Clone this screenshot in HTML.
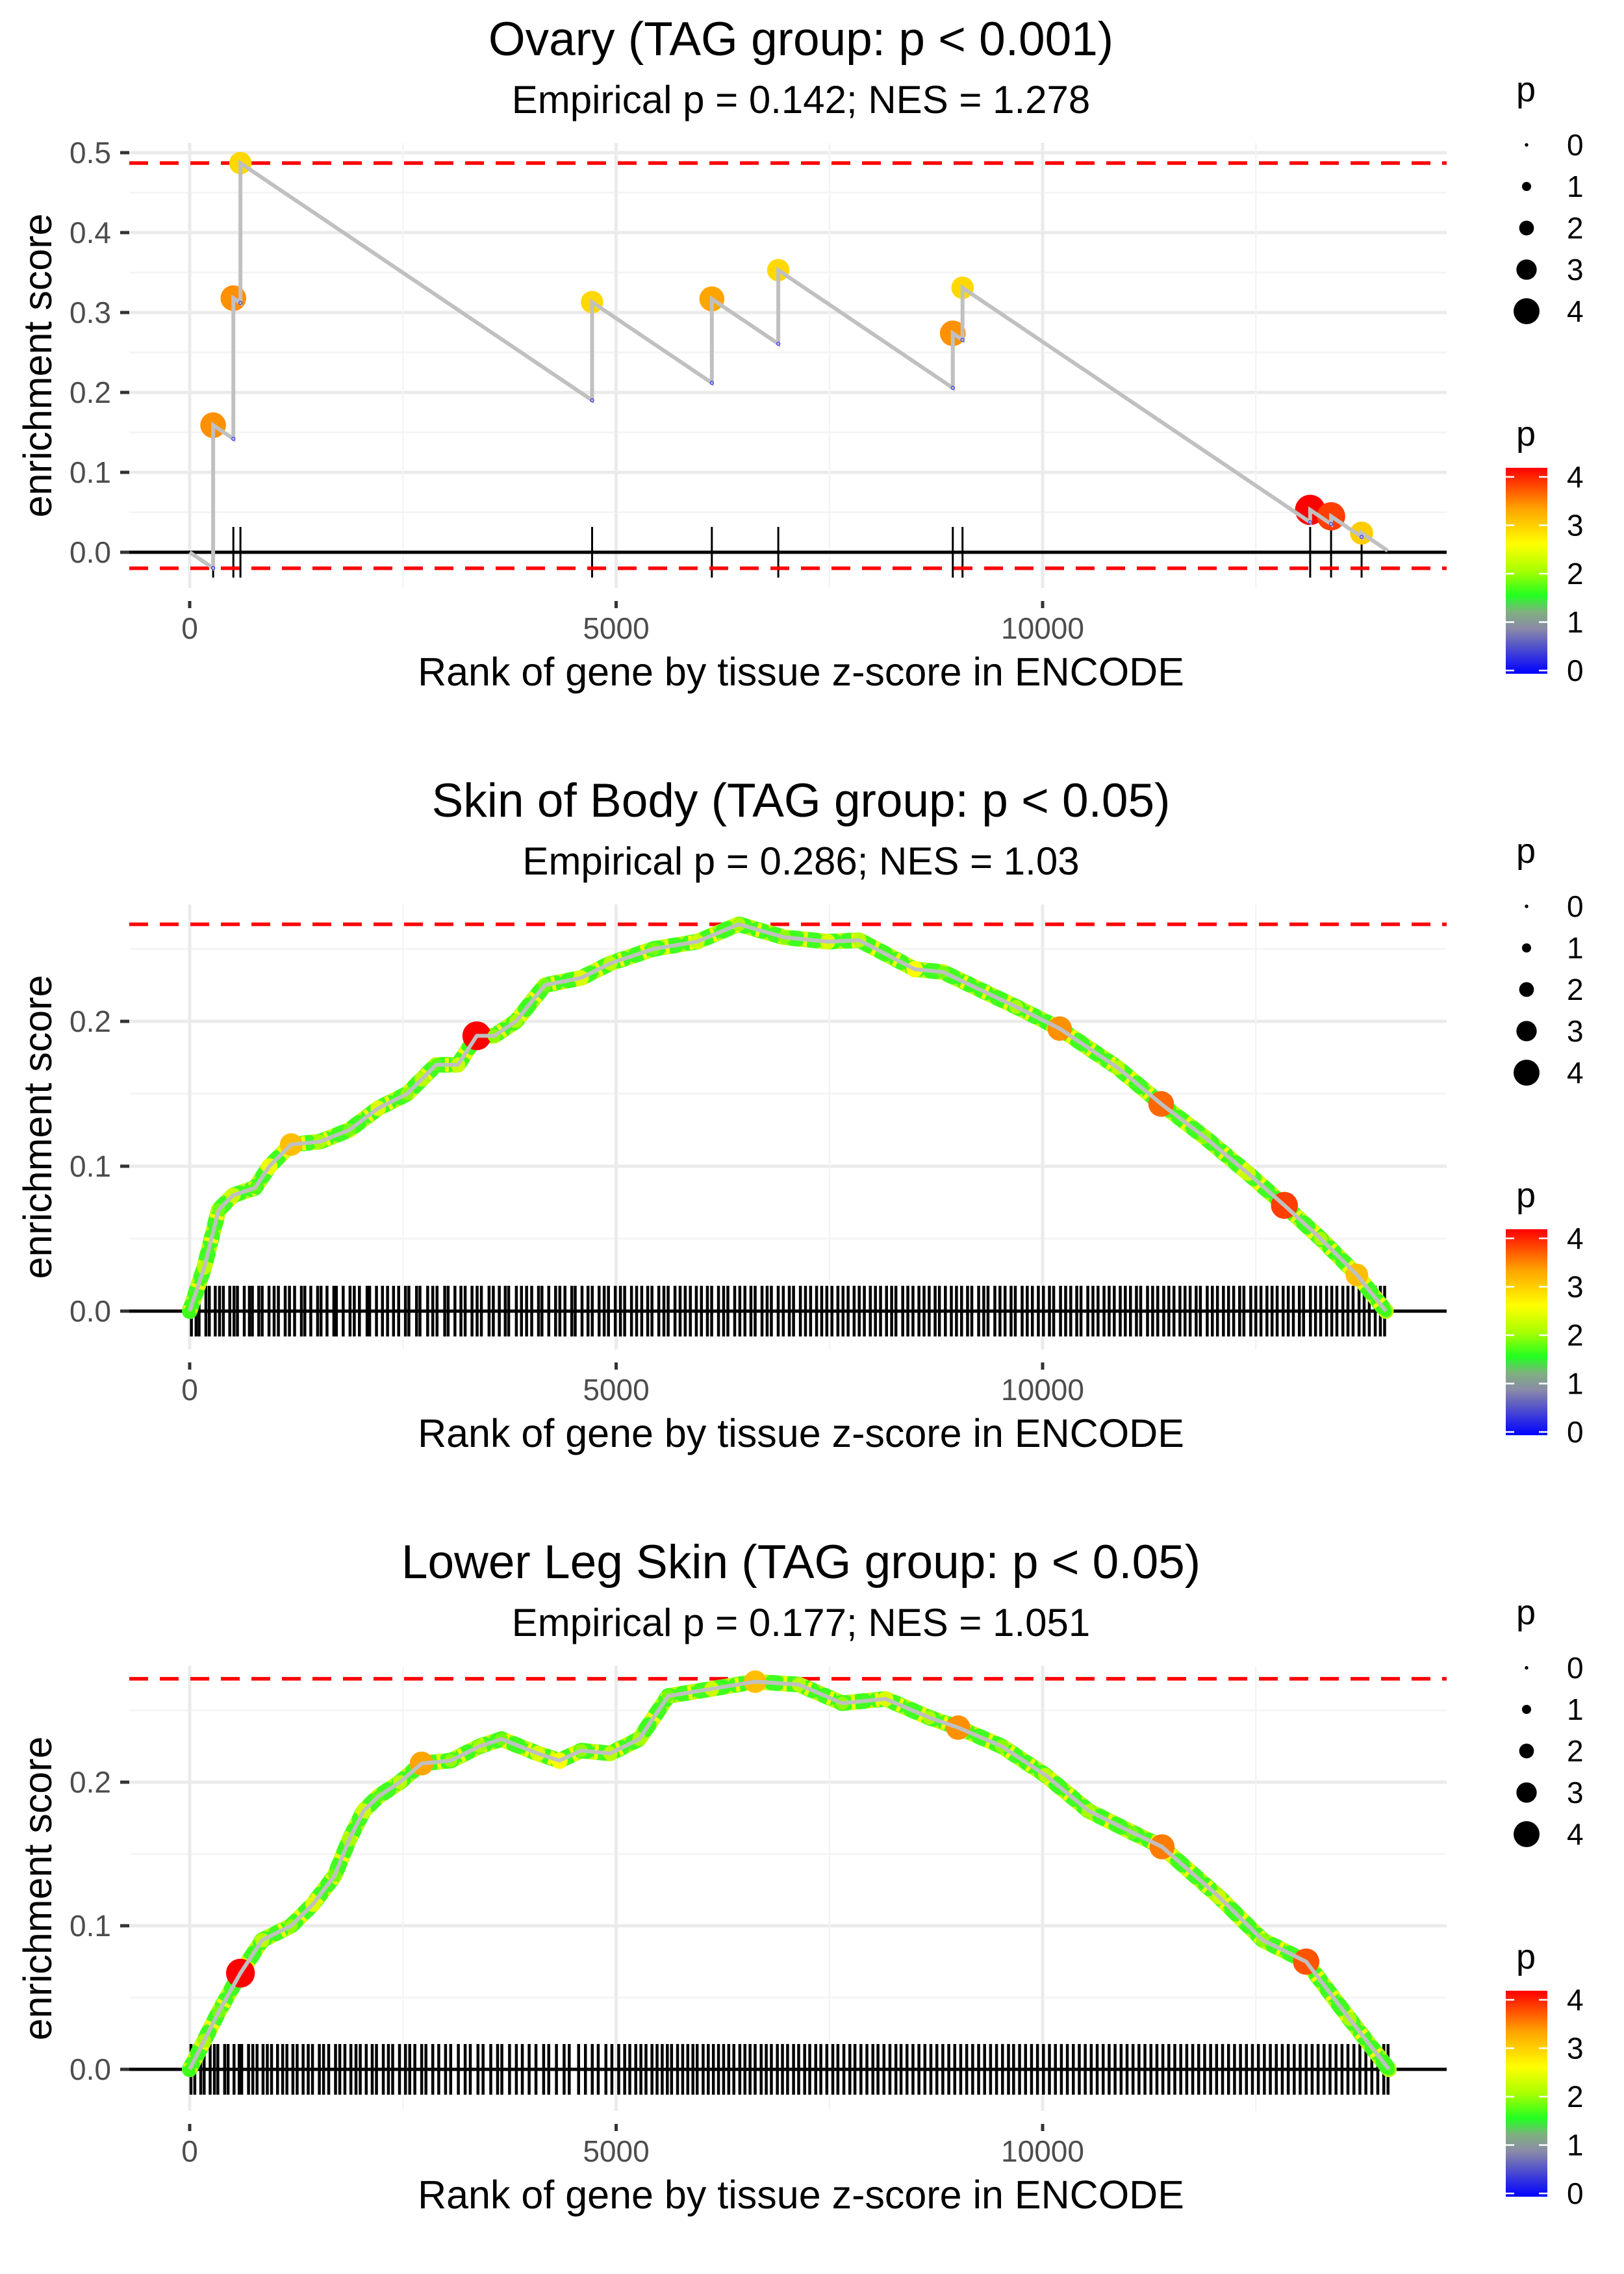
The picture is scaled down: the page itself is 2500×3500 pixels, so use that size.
<!DOCTYPE html>
<html><head><meta charset="utf-8"><title>Enrichment plots</title>
<style>
html,body{margin:0;padding:0;background:#fff;}
svg{display:block;font-family:"Liberation Sans",Arial,sans-serif;}
</style></head>
<body>
<svg id="chart" xmlns="http://www.w3.org/2000/svg" width="2500" height="3500" viewBox="0 0 2500 3500">
<defs>
<linearGradient id="pgrad" x1="0" y1="1" x2="0" y2="0">
<stop offset="0" stop-color="#0000ff"/>
<stop offset="0.22" stop-color="#8a8aa8"/>
<stop offset="0.3" stop-color="#7fb07f"/>
<stop offset="0.38" stop-color="#22ff22"/>
<stop offset="0.5" stop-color="#a8ff00"/>
<stop offset="0.63" stop-color="#ffff00"/>
<stop offset="0.8" stop-color="#ffa500"/>
<stop offset="1" stop-color="#ff0000"/>
</linearGradient>
</defs>
</svg>
<script>
// ---------- Panel 1: Ovary ----------
const ovaryHitRanks = [275,512,595,4718,6122,6901,8947,9061,13137,13382,13740];
const ovaryHitES = [0.159,0.318,0.487,0.313,0.317,0.353,0.274,0.331,0.053,0.045,0.024];
const ovaryHitP = [3.3,3.3,2.8,2.8,3.2,2.8,3.3,2.8,4.0,3.7,2.9];
const ovaryTotalGenes = 14046;
const ovaryMissDrop = 0.000072;
const ovaryRedLines = [0.487,-0.02];
const ovaryYTicks = [0,0.1,0.2,0.3,0.4,0.5];

// ---------- Panel 2: Skin of Body ----------
const skinRanks = [0,170,340,510,765,935,1190,1530,1870,2210,2550,2720,2890,3145,3366,3570,3825,4165,4590,4930,5440,5950,6436,6970,7480,7850,8500,8834,9690,10200,10880,11390,11900,12410,12835,13260,13685,14025];
const skinES = [0,0.03,0.07,0.08,0.085,0.1,0.115,0.117,0.125,0.14,0.15,0.16,0.17,0.17,0.19,0.19,0.2,0.225,0.23,0.24,0.25,0.255,0.267,0.258,0.255,0.256,0.236,0.234,0.21,0.195,0.168,0.143,0.12,0.095,0.073,0.05,0.025,0];
const skinP = [1.6,2.1,1.8,2.2,1.7,2.4,3.0,2.0,1.8,2.3,1.9,2.1,1.7,2.2,4.0,1.9,2.0,1.8,2.3,2.1,1.8,2.2,2.0,1.9,2.3,2.1,2.5,1.8,2.0,3.3,2.1,3.5,1.9,2.2,3.7,2.0,3.0,1.6];
const skinRedLines = [0.267];
const skinYTicks = [0,0.1,0.2];
const skinRug = [20,75,110,190,230,300,350,395,470,520,560,640,700,735,810,850,930,990,1040,1120,1170,1230,1310,1350,1420,1500,1540,1610,1690,1720,1800,1880,1930,1990,2080,2110,2190,2260,2320,2390,2450,2530,2570,2660,2700,2790,2850,2900,2990,3030,3110,3180,3230,3310,3370,3420,3510,3560,3630,3700,3740,3830,3890,3950,4010,4090,4130,4210,4290,4340,4400,4480,4520,4600,4670,4720,4800,4860,4910,4990,5050,5100,5180,5240,5300,5370,5420,5500,5560,5610,5690,5750,5810,5870,5940,6000,6070,6120,6200,6260,6310,6390,6450,6510,6580,6630,6710,6770,6820,6900,6960,7030,7080,7160,7220,7280,7350,7410,7470,7530,7600,7660,7720,7790,7850,7910,7980,8040,8100,8170,8230,8280,8360,8420,8480,8550,8610,8670,8740,8790,8860,8930,8990,9050,9120,9170,9250,9310,9360,9440,9500,9560,9630,9680,9760,9820,9880,9950,10010,10080,10130,10210,10270,10330,10400,10450,10530,10590,10650,10720,10780,10840,10910,10970,11030,11100,11150,11230,11290,11350,11420,11480,11540,11610,11670,11730,11800,11850,11930,11990,12050,12120,12180,12240,12310,12360,12440,12500,12560,12630,12690,12750,12820,12880,12940,13010,13060,13140,13200,13260,13330,13390,13450,13520,13580,13640,13710,13770,13830,13900,13960,14010];

// ---------- Panel 3: Lower Leg Skin ----------
const legRanks = [0,170,340,595,850,1190,1445,1700,1870,2040,2210,2465,2720,3060,3400,3655,4080,4335,4590,4930,5270,5610,6120,6630,7140,7650,8160,8670,9010,9520,10030,10540,11050,11400,12070,12580,13090,13600,14060];
const legES = [0,0.02,0.04,0.067,0.09,0.1,0.115,0.135,0.16,0.18,0.19,0.2,0.213,0.215,0.225,0.23,0.22,0.215,0.222,0.22,0.23,0.26,0.265,0.27,0.268,0.255,0.258,0.245,0.238,0.225,0.205,0.18,0.165,0.155,0.12,0.09,0.075,0.035,0];
const legP = [1.6,2.0,1.8,4.0,2.1,1.9,2.3,1.8,2.0,2.2,1.7,2.1,3.2,1.9,2.0,1.8,2.3,2.5,1.9,2.1,2.0,1.8,2.2,3.0,2.1,1.9,2.3,2.0,3.3,1.9,2.1,2.0,1.8,3.4,2.2,1.9,3.6,2.0,1.6];
const legRedLines = [0.272];
const legYTicks = [0,0.1,0.2];
const legRug = [15,60,130,170,240,290,330,410,450,520,580,610,690,740,790,860,910,960,1030,1090,1140,1210,1260,1330,1390,1440,1520,1570,1630,1710,1760,1820,1890,1950,2000,2070,2140,2190,2270,2330,2380,2460,2530,2580,2640,2720,2770,2850,2920,3000,3060,3150,3230,3290,3380,3440,3530,3610,3660,3750,3830,3900,3980,4060,4150,4210,4300,4390,4450,4560,4640,4720,4790,4880,4950,5030,5100,5160,5230,5290,5350,5420,5480,5540,5600,5650,5720,5780,5840,5900,5950,6020,6080,6140,6200,6260,6320,6380,6450,6510,6570,6630,6700,6760,6820,6890,6950,7010,7080,7140,7210,7270,7340,7400,7470,7540,7600,7670,7740,7800,7870,7940,8010,8070,8140,8210,8280,8340,8410,8480,8550,8620,8690,8760,8830,8900,8970,9040,9110,9180,9250,9320,9390,9460,9530,9600,9660,9730,9800,9870,9940,10010,10080,10150,10220,10290,10360,10430,10500,10570,10640,10710,10780,10850,10920,10990,11060,11130,11200,11270,11340,11410,11480,11550,11620,11690,11760,11830,11900,11970,12040,12110,12180,12250,12320,12390,12460,12530,12600,12670,12740,12810,12880,12950,13020,13090,13160,13230,13300,13370,13440,13510,13580,13650,13720,13790,13860,13930,14000,14050];

const xTicks = [0,5000,10000];
const xTickLabels = ["0","5000","10000"];
const legendPValues = [0,1,2,3,4];

const NS = "http://www.w3.org/2000/svg";
const svg = document.getElementById("chart");
function mk(tag, attrs, parent){
  const e = document.createElementNS(NS, tag);
  for (const k in attrs) e.setAttribute(k, attrs[k]);
  (parent||svg).appendChild(e);
  return e;
}
const cStops = [[0,[0,0,255]],[0.9,[138,138,168]],[1.2,[127,176,127]],[1.5,[34,255,34]],[2.0,[168,255,0]],[2.5,[255,255,0]],[3.2,[255,165,0]],[4,[255,0,0]]];
function pColor(p){
  p = Math.max(0, Math.min(4, p));
  for (let i=1;i<cStops.length;i++){
    if (p <= cStops[i][0]){
      const a=cStops[i-1], b=cStops[i], t=(p-a[0])/(b[0]-a[0]);
      const c=a[1].map((v,j)=>Math.round(v+(b[1][j]-v)*t));
      return "rgb("+c.join(",")+")";
    }
  }
  return "rgb(255,0,0)";
}
function pRadius(p){ return 3 + 4.8*p; }
const X0 = 292, XK = 0.1313, PL = 199, PR = 2227;
function xScale(r){ return X0 + r*XK; }

function drawPanel(cfg){
  const g = mk("g", {});
  
  
  const y = v => cfg.yZero - v*cfg.k;
  const dy = cfg.dy;
  const grid = mk("g", {}, g);
  
  
  cfg.yTicks.forEach(t=>{
    mk("line",{x1:PL,x2:PR,y1:y(t),y2:y(t),stroke:"#ebebeb","stroke-width":5},grid);
    if (t+0.05 <= cfg.yMaxGrid) mk("line",{x1:PL,x2:PR,y1:y(t+0.05),y2:y(t+0.05),stroke:"#f4f4f4","stroke-width":2.5},grid);
  });
  xTicks.forEach(t=>{
    mk("line",{x1:xScale(t),x2:xScale(t),y1:cfg.top,y2:cfg.bottom,stroke:"#ebebeb","stroke-width":5},grid);
    mk("line",{x1:xScale(t+2500),x2:xScale(t+2500),y1:cfg.top,y2:cfg.bottom,stroke:"#f4f4f4","stroke-width":2.5},grid);
  });
  cfg.yTicks.forEach(t=>{
    const tm = mk("line",{x1:185,x2:199,y1:y(t),y2:y(t),stroke:"#333","stroke-width":5},g);
    
    
    const tl = mk("text",{x:171,y:y(t),"text-anchor":"end","dominant-baseline":"central","font-size":46,fill:"#4d4d4d"},g);
    tl.textContent = t.toFixed(1);
    
    
  });
  xTicks.forEach((t,i)=>{
    const tm = mk("line",{x1:xScale(t),x2:xScale(t),y1:cfg.bottom+20,y2:cfg.bottom+31,stroke:"#333","stroke-width":5},g);
    
    
    const tl = mk("text",{x:xScale(t),y:dy+983,"text-anchor":"middle","font-size":46,fill:"#4d4d4d"},g);
    tl.textContent = xTickLabels[i];
    
    
  });
  const rug = mk("g",{},g);
  
  
  cfg.rug.forEach(r=>{
    const l = mk("line",{x1:xScale(r),x2:xScale(r),y1:cfg.yZero-39,y2:cfg.yZero+39,stroke:"#000","stroke-width":cfg.rugW},rug);
    
    
  });
  const zl = mk("line",{x1:PL,x2:PR,y1:cfg.yZero,y2:cfg.yZero,stroke:"#000","stroke-width":5},g);
  
  
  cfg.redLines.forEach(v=>{
    const rl = mk("line",{x1:PL,x2:PR,y1:y(v),y2:y(v),stroke:"#ff0000","stroke-width":5.5,"stroke-dasharray":"29 18"},g);
    
    
  });
  cfg.drawSeries(g, y);
  const tt = mk("text",{x:1233,y:dy+85,"text-anchor":"middle","font-size":73,fill:"#000"},g);
  tt.textContent = cfg.title;
  
  
  const st = mk("text",{x:1233,y:dy+174,"text-anchor":"middle","font-size":60,fill:"#000"},g);
  st.textContent = cfg.subtitle;
  
  
  const xt = mk("text",{x:1233,y:dy+1055,"text-anchor":"middle","font-size":61,fill:"#000"},g);
  xt.textContent = "Rank of gene by tissue z-score in ENCODE";
  
  
  const ymid = (cfg.top+cfg.bottom)/2;
  const yt = mk("text",{x:58,y:ymid,"text-anchor":"middle","dominant-baseline":"central","font-size":61,fill:"#000",transform:"rotate(-90 58 "+ymid+")"},g);
  yt.textContent = "enrichment score";
  
  
  const sl = mk("g",{},g);
  
  
  const slt = mk("text",{x:2334,y:dy+156,"font-size":54,fill:"#000"},sl);
  slt.textContent = "p";
  
  
  legendPValues.forEach((p,i)=>{
    const cy = dy + 223 + i*64;
    const d = mk("circle",{cx:2350,cy:cy,r:pRadius(p)*0.9,fill:"#000"},sl);
    
    
    const lt = mk("text",{x:2412,y:cy,"dominant-baseline":"central","font-size":46,fill:"#000"},sl);
    lt.textContent = String(p);
    
    
  });
  const cl = mk("g",{},g);
  
  
  const clt = mk("text",{x:2334,y:dy+686,"font-size":54,fill:"#000"},cl);
  clt.textContent = "p";
  
  
  const bar = mk("rect",{x:2318,y:dy+720,width:64,height:317,fill:"url(#pgrad)"},cl);
  
  
  legendPValues.forEach(p=>{
    const cy = dy + 1032 - p*74.5;
    mk("line",{x1:2318,x2:2331,y1:cy,y2:cy,stroke:"#fff","stroke-width":2.5},cl);
    mk("line",{x1:2369,x2:2382,y1:cy,y2:cy,stroke:"#fff","stroke-width":2.5},cl);
    const lt = mk("text",{x:2412,y:cy,"dominant-baseline":"central","font-size":46,fill:"#000"},cl);
    lt.textContent = String(p);
    
    
  });
}

function drawOvary(g, y){
  const pts = [[xScale(0),y(0)]];
  const lows = [];
  let prevR = 0, prevES = 0;
  ovaryHitRanks.forEach((r,i)=>{
    const low = prevES - ovaryMissDrop*(r-prevR);
    pts.push([xScale(r),y(low)]);
    lows.push([xScale(r),y(low)]);
    pts.push([xScale(r),y(ovaryHitES[i])]);
    prevR = r; prevES = ovaryHitES[i];
  });
  const endES = prevES - ovaryMissDrop*(ovaryTotalGenes-prevR);
  pts.push([xScale(ovaryTotalGenes),y(endES)]);
  ovaryHitRanks.forEach((r,i)=>{
    const c = mk("circle",{cx:xScale(r),cy:y(ovaryHitES[i]),r:pRadius(ovaryHitP[i])*1.05,fill:pColor(ovaryHitP[i])},g);
    
    
  });
  const pl = mk("polyline",{points:pts.map(p=>p.join(",")).join(" "),fill:"none",stroke:"#c0c0c0","stroke-width":6,"stroke-linejoin":"miter"},g);
  
  
  lows.forEach(p=>{
    const c = mk("circle",{cx:p[0],cy:p[1],r:2.5,fill:"none",stroke:"#3333ff","stroke-width":1.2},g);
    
    
  });
}
function denseSeries(ranks, es, ps){
  return function(g, y){
    const pts = ranks.map((r,i)=>xScale(r)+","+y(es[i])).join(" ");
    const band = mk("polyline",{points:pts,fill:"none",stroke:"#b8ff10","stroke-width":24,"stroke-linejoin":"round","stroke-linecap":"round"},g);
    
    
    const band2 = mk("polyline",{points:pts,fill:"none",stroke:"#40ff20","stroke-width":24,"stroke-linejoin":"round","stroke-linecap":"round","stroke-dasharray":"8 20"},g);
    
    
    const band3 = mk("polyline",{points:pts,fill:"none",stroke:"#eeff00","stroke-width":22,"stroke-linejoin":"round","stroke-dasharray":"6 31"},g);
    
    
    ranks.forEach((r,i)=>{
      const c = mk("circle",{cx:xScale(r),cy:y(es[i]),r:pRadius(ps[i])*(ps[i]>2.8?1.0:0.85),fill:pColor(ps[i])},g);
      
      
    });
    const pl = mk("polyline",{points:pts,fill:"none",stroke:"#c0c0c0","stroke-width":6,"stroke-linejoin":"round"},g);
    
    
  };
}

drawPanel({name:"ovary-panel",dy:0,yZero:850,k:1230,top:220,bottom:905,yMaxGrid:0.5,yTicks:ovaryYTicks,redLines:ovaryRedLines,
  rug:ovaryHitRanks,rugW:3,title:"Ovary (TAG group: p < 0.001)",subtitle:"Empirical p = 0.142; NES = 1.278",drawSeries:drawOvary});
drawPanel({name:"skin-of-body-panel",dy:1172,yZero:2018,k:2230,top:1392,bottom:2077,yMaxGrid:0.26,yTicks:skinYTicks,redLines:skinRedLines,
  rug:skinRug,rugW:4.5,title:"Skin of Body (TAG group: p < 0.05)",subtitle:"Empirical p = 0.286; NES = 1.03",drawSeries:denseSeries(skinRanks,skinES,skinP)});
drawPanel({name:"lower-leg-skin-panel",dy:2344,yZero:3185,k:2210,top:2564,bottom:3249,yMaxGrid:0.26,yTicks:legYTicks,redLines:legRedLines,
  rug:legRug,rugW:4.5,title:"Lower Leg Skin (TAG group: p < 0.05)",subtitle:"Empirical p = 0.177; NES = 1.051",drawSeries:denseSeries(legRanks,legES,legP)});
</script>
</body></html>
